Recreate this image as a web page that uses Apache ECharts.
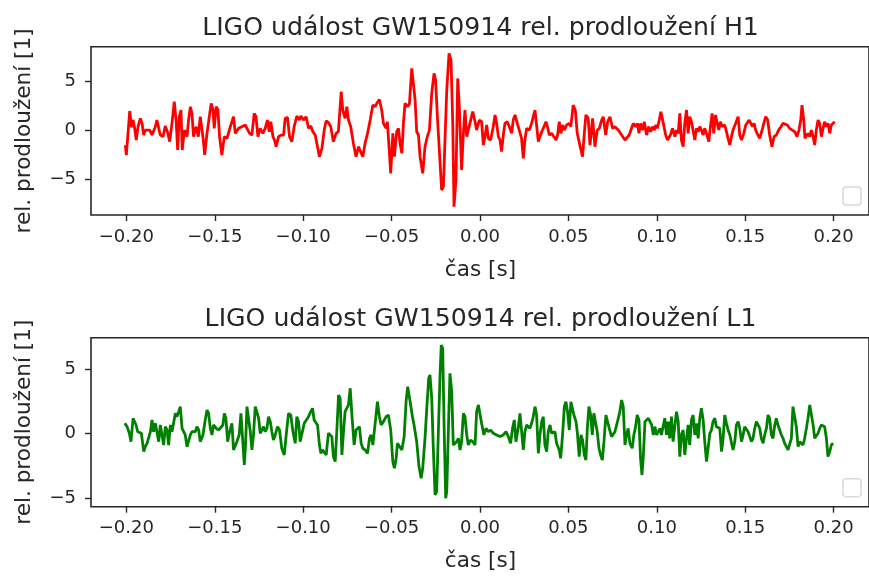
<!DOCTYPE html>
<html>
<head>
<meta charset="utf-8">
<script src="https://cdn.jsdelivr.net/npm/echarts@6/dist/echarts.min.js"></script>
<style>
  html, body { margin: 0; padding: 0; background: #fff; }
  #chart { width: 869px; height: 576px; }
</style>
</head>
<body>
<div id="chart"></div>
<script>
// cas [s] a relativni prodlouzeni
const h1Points = [
  [-0.2006,-1.51],[-0.2000,-2.53],[-0.1981,1.99],[-0.1970,0.31],[-0.1962,1.06],[-0.1953,0.21],[-0.1944,-0.99],[-0.1934,0.38],[-0.1921,1.23],[-0.1911,0.72],
  [-0.1902,-0.48],[-0.1893,0.03],[-0.1883,-0.03],[-0.1868,0.03],[-0.1855,-0.48],[-0.1846,-0.48],[-0.1836,0.38],[-0.1827,1.06],[-0.1817,0.21],[-0.1808,-0.48],
  [-0.1793,-0.65],[-0.1780,0.45],[-0.1766,-0.24],[-0.1755,-1.16],[-0.1742,0.72],[-0.1729,2.95],[-0.1718,0.89],[-0.1710,-2.02],[-0.1701,1.40],[-0.1691,2.09],
  [-0.1684,-2.02],[-0.1672,0.03],[-0.1657,-0.65],[-0.1648,1.06],[-0.1638,2.43],[-0.1629,1.75],[-0.1620,-0.65],[-0.1605,0.38],[-0.1593,-0.65],[-0.1582,1.40],
  [-0.1574,1.47],[-0.1567,-0.65],[-0.1557,-2.53],[-0.1544,-0.31],[-0.1531,1.40],[-0.1520,2.77],[-0.1510,2.09],[-0.1503,0.21],[-0.1492,2.43],[-0.1482,2.09],
  [-0.1473,-0.65],[-0.1460,-2.53],[-0.1446,-0.65],[-0.1431,-0.82],[-0.1412,0.38],[-0.1394,1.40],[-0.1384,-0.31],[-0.1365,0.21],[-0.1347,0.38],[-0.1328,0.55],
  [-0.1318,0.55],[-0.1303,-0.31],[-0.1290,-0.48],[-0.1277,1.75],[-0.1267,1.40],[-0.1256,-0.65],[-0.1243,0.21],[-0.1228,-0.31],[-0.1215,0.21],[-0.1202,1.06],
  [-0.1192,-0.14],[-0.1183,0.89],[-0.1171,-0.65],[-0.1162,-0.99],[-0.1153,-1.68],[-0.1139,-0.65],[-0.1126,-0.48],[-0.1111,-0.48],
  [-0.1102,1.23],[-0.1089,1.34],[-0.1077,-0.65],[-0.1064,-1.16],[-0.1051,0.38],[-0.1036,1.47],[-0.1021,1.06],[-0.1013,1.47],[-0.0998,1.06],[-0.0983,1.40],
  [-0.0970,0.21],[-0.0957,0.45],[-0.0945,-0.14],[-0.0932,-0.48],[-0.0919,-1.68],[-0.0908,-2.71],[-0.0894,-1.85],[-0.0881,0.03],[-0.0870,0.99],[-0.0857,0.79],
  [-0.0844,0.38],[-0.0829,-1.16],[-0.0814,-0.31],[-0.0801,-0.14],[-0.0785,3.97],[-0.0776,2.09],[-0.0763,1.23],[-0.0753,2.43],[-0.0744,1.06],[-0.0731,0.38],
  [-0.0716,-1.34],[-0.0701,-2.71],[-0.0687,-1.68],[-0.0678,-1.85],[-0.0663,-2.71],[-0.0650,-1.34],[-0.0636,-0.31],[-0.0621,1.06],[-0.0606,2.60],[-0.0593,2.43],
  [-0.0584,2.77],[-0.0569,3.18],[-0.0556,2.09],[-0.0546,0.72],[-0.0531,0.21],[-0.0524,0.89],[-0.0512,-2.36],[-0.0505,-4.42],[-0.0493,-0.31],[-0.0484,-2.71],
  [-0.0471,-0.14],[-0.0461,0.21],[-0.0452,-1.34],[-0.0442,-2.36],[-0.0433,0.72],[-0.0424,2.77],[-0.0410,2.43],[-0.0399,2.77],[-0.0386,6.37],[-0.0377,6.20],
  [-0.0367,3.12],[-0.0358,-0.14],[-0.0348,-0.48],[-0.0339,-2.71],[-0.0324,-4.42],[-0.0311,-1.68],[-0.0298,-0.65],[-0.0286,0.03],[-0.0273,3.80],[-0.0260,5.86],
  [-0.0251,5.17],[-0.0241,1.40],[-0.0230,-2.02],[-0.0217,-6.13],[-0.0207,-5.79],[-0.0198,-0.99],[-0.0188,4.14],[-0.0175,7.91],[-0.0164,7.23],[-0.0154,0.72],
  [-0.0147,-7.84],[-0.0136,-5.10],[-0.0126,5.34],[-0.0117,2.43],[-0.0104,-4.08],[-0.0094,-0.31],[-0.0085,2.09],[-0.0075,-0.65],[-0.0066,-0.65],[-0.0057,0.72],
  [-0.0041,1.92],[-0.0028,0.89],[-0.0019,0.03],[-0.0004,1.06],
  [0.0009,0.89],[0.0019,-1.51],[0.0028,-0.65],[0.0038,0.55],[0.0047,-0.82],[0.0060,-0.99],[0.0075,0.38],[0.0085,1.58],[0.0094,0.72],[0.0104,-0.65],
  [0.0113,-0.99],[0.0122,-2.19],[0.0132,-0.48],[0.0141,0.72],[0.0154,0.89],[0.0166,0.38],[0.0179,-0.31],[0.0188,1.06],[0.0198,1.58],[0.0211,0.72],
  [0.0222,0.03],[0.0235,-0.82],[0.0245,-2.88],[0.0254,-0.99],[0.0264,0.21],[0.0279,0.03],[0.0292,0.72],[0.0301,1.40],[0.0311,2.09],[0.0320,0.55],
  [0.0330,-1.16],[0.0339,-0.65],[0.0349,-0.14],[0.0362,0.38],[0.0373,0.89],[0.0381,0.38],[0.0392,-0.48],[0.0405,-0.31],[0.0418,-0.65],[0.0430,-0.99],
  [0.0439,-0.48],[0.0448,0.89],[0.0458,-0.31],[0.0467,0.55],[0.0477,0.03],[0.0490,0.55],[0.0505,0.72],[0.0514,0.38],[0.0527,2.60],[0.0539,2.09],
  [0.0550,-0.31],[0.0561,-0.14],[0.0571,-2.02],[0.0580,-2.71],[0.0590,-0.31],[0.0599,1.58],[0.0612,1.23],[0.0622,-1.51],[0.0637,1.23],[0.0650,-1.68],
  [0.0663,0.03],[0.0675,0.21],[0.0688,1.06],[0.0697,1.40],[0.0711,-0.48],[0.0722,0.89],[0.0735,1.40],[0.0750,0.21],[0.0763,0.38],[0.0782,0.03],
  [0.0801,-0.48],[0.0820,-0.99],[0.0829,-0.99],[0.0844,-0.48],[0.0857,0.21],[0.0867,0.72],[0.0880,0.38],[0.0891,0.72],[0.0899,-0.31],[0.0908,0.72],
  [0.0920,0.03],[0.0929,0.89],[0.0942,-0.48],[0.0954,0.38],[0.0965,-0.14],[0.0976,0.38],[0.0986,0.03],[0.0995,0.55],[0.1003,0.21],[0.1014,1.06],
  [0.1023,1.92],[0.1037,0.72],[0.1050,-0.48],[0.1061,-0.99],
  [0.1077,-0.48],[0.1089,0.21],[0.1102,-0.65],[0.1111,0.03],[0.1121,-0.31],[0.1130,1.75],[0.1139,-0.99],[0.1149,-1.68],[0.1158,0.72],[0.1168,2.09],
  [0.1177,-0.31],[0.1186,1.40],[0.1196,0.89],[0.1205,1.06],[0.1215,-0.99],[0.1224,0.21],[0.1234,-0.14],[0.1243,0.38],[0.1252,0.03],[0.1262,-0.48],
  [0.1271,0.21],[0.1281,-0.31],[0.1294,-1.16],[0.1303,0.38],[0.1313,1.75],[0.1322,-0.31],[0.1332,1.58],[0.1341,1.58],[0.1350,0.03],[0.1360,0.89],
  [0.1369,0.38],[0.1384,0.55],[0.1394,-0.14],[0.1403,-0.82],[0.1413,-1.51],[0.1422,-0.65],[0.1431,0.03],[0.1446,0.72],[0.1460,1.40],[0.1469,-0.48],
  [0.1479,-0.99],[0.1492,-0.31],[0.1503,0.55],[0.1512,0.72],[0.1522,1.06],[0.1531,1.23],[0.1541,0.38],[0.1550,0.72],[0.1559,0.03],[0.1567,-0.31],
  [0.1582,-0.82],[0.1593,-0.14],[0.1605,0.72],[0.1616,1.40],[0.1627,1.06],[0.1638,-0.48],[0.1651,-1.68],[0.1663,-0.65],[0.1676,-0.48],[0.1689,0.03],
  [0.1702,0.38],[0.1714,0.72],[0.1725,0.89],[0.1738,0.55],[0.1751,0.21],[0.1766,0.03],[0.1780,-0.14],[0.1793,-0.65],[0.1804,0.03],[0.1814,1.06],
  [0.1821,2.60],[0.1831,1.06],[0.1838,-0.82],[0.1846,-0.65],[0.1855,-0.31],[0.1865,-0.65],[0.1874,0.03],[0.1884,-0.65],[0.1893,-1.51],[0.1902,0.03],
  [0.1912,1.06],[0.1921,0.72],[0.1931,-0.65],[0.1940,0.21],[0.1949,0.89],[0.1959,0.38],[0.1968,0.72],[0.1978,-0.31],[0.1987,0.55],[0.1997,0.72],
  [0.2006,0.89]
];

const l1Points = [
  [-0.2009,0.80],[-0.1996,0.54],[-0.1983,0.03],[-0.1974,-0.62],[-0.1962,1.19],[-0.1955,1.31],[-0.1945,0.67],[-0.1936,0.15],[-0.1925,0.28],[-0.1915,0.03],
  [-0.1902,-1.39],[-0.1893,-1.01],[-0.1883,-0.75],[-0.1874,-0.75],[-0.1864,0.15],[-0.1855,1.06],[-0.1846,0.15],[-0.1836,0.80],[-0.1827,0.67],[-0.1817,-0.62],
  [-0.1808,0.67],[-0.1798,0.80],[-0.1789,-0.88],[-0.1780,0.54],[-0.1770,0.28],[-0.1761,-0.88],[-0.1751,0.67],[-0.1742,0.15],[-0.1733,0.80],[-0.1723,1.57],
  [-0.1714,1.31],[-0.1704,1.70],[-0.1695,2.09],[-0.1685,0.41],[-0.1676,0.28],[-0.1667,-0.10],[-0.1657,-1.01],[-0.1648,-0.88],[-0.1638,-0.10],[-0.1629,0.15],
  [-0.1620,0.28],[-0.1610,0.15],[-0.1601,0.54],[-0.1591,0.28],[-0.1582,-0.62],[-0.1567,-0.10],[-0.1554,1.06],[-0.1544,1.83],[-0.1535,1.57],[-0.1525,0.41],
  [-0.1516,-0.10],[-0.1507,0.67],[-0.1492,0.41],[-0.1478,0.28],[-0.1469,0.15],[-0.1454,0.67],[-0.1446,1.57],[-0.1437,1.19],[-0.1427,-0.62],[-0.1416,0.15],
  [-0.1403,0.80],[-0.1394,-1.26],[-0.1384,-1.13],[-0.1375,-0.62],[-0.1362,-0.10],[-0.1352,1.57],[-0.1341,1.70],[-0.1333,-2.42],[-0.1326,-0.88],[-0.1318,2.09],
  [-0.1309,1.96],[-0.1299,0.15],[-0.1290,-1.26],[-0.1281,-0.10],[-0.1271,2.09],[-0.1262,2.22],[-0.1252,1.19],[-0.1243,0.03],[-0.1234,-0.10],[-0.1224,0.54],
  [-0.1215,0.15],[-0.1205,0.41],[-0.1196,1.31],[-0.1186,0.93],[-0.1177,0.15],[-0.1168,-0.49],[-0.1158,-0.10],[-0.1145,0.54],[-0.1134,0.28],[-0.1121,-1.13],
  [-0.1107,-1.65],
  [-0.1096,-0.10],[-0.1083,1.57],[-0.1070,1.44],[-0.1058,0.15],[-0.1045,-0.75],[-0.1036,1.31],[-0.1026,0.93],[-0.1017,-0.62],[-0.1007,-0.62],[-0.0994,0.80],
  [-0.0983,0.93],[-0.0970,1.31],[-0.0957,1.70],[-0.0947,1.96],[-0.0938,1.06],[-0.0928,1.19],[-0.0919,0.67],[-0.0908,-0.88],[-0.0900,-1.52],[-0.0891,-1.26],
  [-0.0881,-1.39],[-0.0870,-1.65],[-0.0857,0.03],[-0.0847,0.15],[-0.0838,-0.23],[-0.0829,-1.78],[-0.0819,-2.16],[-0.0810,0.15],[-0.0800,2.99],[-0.0791,2.73],
  [-0.0781,-1.65],[-0.0772,0.15],[-0.0763,1.70],[-0.0753,1.83],[-0.0744,2.22],[-0.0734,3.51],[-0.0725,1.57],[-0.0712,-0.88],[-0.0701,0.28],[-0.0691,0.41],
  [-0.0682,0.54],[-0.0672,-0.75],[-0.0663,-1.13],[-0.0650,-1.26],[-0.0636,-1.52],[-0.0625,-0.36],[-0.0616,-0.10],[-0.0606,-0.88],[-0.0593,0.80],[-0.0580,2.47],
  [-0.0569,1.31],[-0.0559,0.67],[-0.0546,0.93],[-0.0531,1.31],[-0.0518,1.44],[-0.0505,0.28],[-0.0493,-2.16],[-0.0484,-2.68],[-0.0474,-1.91],[-0.0467,-0.75],
  [-0.0456,-0.62],[-0.0442,-1.26],[-0.0429,-0.23],[-0.0418,2.47],[-0.0409,3.63],[-0.0395,2.47],[-0.0382,1.31],[-0.0373,0.67],[-0.0358,-0.62],[-0.0345,-2.55],
  [-0.0333,-3.45],[-0.0324,-2.68],[-0.0311,-0.36],[-0.0301,1.96],[-0.0290,4.28],[-0.0283,4.54],[-0.0273,2.73],[-0.0264,-1.13],[-0.0254,-4.74],[-0.0245,-4.48],
  [-0.0236,-0.10],[-0.0226,4.54],[-0.0219,6.86],[-0.0211,6.60],[-0.0202,-0.10],[-0.0194,-5.00],[-0.0188,-4.48],[-0.0177,1.19],[-0.0170,4.66],[-0.0160,3.25],
  [-0.0151,-0.88],[-0.0141,-1.01],[-0.0132,-0.62],[-0.0122,-0.36],[-0.0113,-1.26],[-0.0104,-0.62],[-0.0094,1.57],[-0.0085,1.31],[-0.0075,-0.10],[-0.0066,-0.88],
  [-0.0053,-0.49],[-0.0041,-0.62],[-0.0028,-0.88],[-0.0019,1.70],[-0.0009,2.22],[0.0000,2.09],
  [0.0009,0.80],[0.0022,-0.10],[0.0034,0.41],[0.0047,0.15],[0.0060,0.28],[0.0075,0.03],[0.0094,-0.10],[0.0113,-0.23],[0.0132,-0.10],[0.0147,0.15],
  [0.0160,-0.23],[0.0173,-0.75],[0.0184,0.41],[0.0194,1.06],[0.0203,-0.62],[0.0216,0.41],[0.0226,1.57],[0.0235,1.70],[0.0245,-1.26],[0.0254,0.15],
  [0.0264,0.67],[0.0273,0.80],[0.0282,0.41],[0.0292,0.80],[0.0301,1.31],[0.0311,2.09],[0.0320,1.44],[0.0330,-1.52],[0.0339,-0.10],[0.0349,0.93],
  [0.0358,1.31],[0.0367,-0.88],[0.0377,-1.39],[0.0386,0.15],[0.0396,0.67],[0.0405,0.03],[0.0414,-0.10],[0.0424,0.15],[0.0433,-0.75],[0.0448,-1.26],
  [0.0456,-1.91],[0.0467,-0.10],[0.0477,2.09],[0.0486,2.47],[0.0495,1.70],[0.0505,0.28],[0.0514,2.47],[0.0524,2.60],[0.0531,1.44],[0.0543,0.93],
  [0.0550,0.15],[0.0561,-1.78],[0.0571,-0.10],[0.0580,-0.49],[0.0590,-1.65],[0.0599,-2.04],[0.0607,0.41],[0.0616,2.09],[0.0626,1.44],[0.0635,-0.10],
  [0.0644,1.57],[0.0654,1.70],[0.0663,0.15],[0.0673,-1.13],[0.0682,-1.65],[0.0692,-2.04],[0.0701,-0.62],[0.0712,1.44],[0.0722,1.57],[0.0731,0.41],
  [0.0744,-0.23],[0.0754,-0.10],[0.0763,0.15],[0.0773,0.67],[0.0782,0.80],[0.0791,1.70],[0.0801,2.60],[0.0810,2.09],[0.0820,-0.88],[0.0829,-0.10],
  [0.0838,0.41],[0.0848,-0.75],[0.0861,-1.13],[0.0870,-0.10],[0.0880,0.54],[0.0889,1.44],[0.0899,1.06],[0.0908,-1.91],[0.0916,-3.20],[0.0923,-1.91],
  [0.0933,0.93],[0.0942,0.93],[0.0952,1.19],[0.0961,1.31],[0.0971,0.67],[0.0980,-0.10],[0.0989,0.54],[0.0999,-0.10],[0.1008,0.03],[0.1018,0.41],
  [0.1026,-0.10],[0.1036,-0.23],[0.1045,1.19],[0.1055,-0.10],[0.1064,0.93],[0.1073,-0.36],[0.1083,1.31],[0.1092,-0.62],[0.1102,-0.75],[0.1111,1.70],
  [0.1121,0.93],[0.1130,-1.78],[0.1139,-0.10],[0.1149,0.28],[0.1158,-1.65],[0.1168,-0.36],[0.1177,0.67],[0.1186,-0.88],[0.1196,1.06],[0.1205,1.44],
  [0.1215,-0.10],[0.1224,0.80],[0.1234,-0.36],[0.1243,1.19],[0.1252,1.96],[0.1262,1.06],[0.1271,-0.62],[0.1281,-2.16],[0.1290,-1.13],[0.1300,0.03],
  [0.1309,0.28],[0.1318,0.93],[0.1328,1.19],[0.1337,0.54],[0.1347,0.67],[0.1356,0.41],[0.1366,-1.39],[0.1375,-0.36],[0.1384,1.44],[0.1394,0.80],
  [0.1403,0.28],[0.1413,-0.10],[0.1422,-0.23],[0.1431,-1.26],[0.1441,-0.62],[0.1450,0.67],[0.1460,0.93],[0.1469,0.41],[0.1479,-0.62],[0.1488,-0.10],
  [0.1497,0.54],[0.1507,0.67],[0.1516,0.15],[0.1526,-0.23],[0.1535,-0.62],[0.1544,-0.36],[0.1554,0.41],[0.1563,0.93],[0.1573,0.67],[0.1582,0.41],
  [0.1591,-0.36],[0.1601,-0.75],[0.1610,-0.10],[0.1620,0.41],[0.1629,1.44],[0.1638,1.19],[0.1648,-0.10],[0.1657,-0.36],[0.1667,0.67],[0.1676,1.19],
  [0.1685,0.67],[0.1695,0.28],[0.1704,-0.10],[0.1714,-0.36],[0.1723,-0.75],[0.1733,-1.01],[0.1742,-1.26],[0.1751,-1.13],[0.1761,-0.36],[0.1770,2.09],
  [0.1780,1.96],[0.1789,0.54],[0.1799,-1.01],[0.1808,-0.62],[0.1817,-0.75],[0.1827,-0.88],[0.1836,-0.36],[0.1846,0.41],[0.1855,1.19],[0.1865,2.22],
  [0.1874,2.09],[0.1884,0.67],[0.1893,-0.36],[0.1902,-0.23],[0.1912,0.03],[0.1921,0.41],[0.1931,0.67],[0.1940,0.80],[0.1949,0.54],[0.1959,-0.36],
  [0.1968,-1.78],[0.1978,-1.39],[0.1987,-0.88],[0.1997,-0.75]
];

const xTicks = [-0.20, -0.15, -0.10, -0.05, 0.00, 0.05, 0.10, 0.15, 0.20];
const yTicks = [-5, 0, 5];
const titles = ['LIGO událost GW150914 rel. prodloužení H1', 'LIGO událost GW150914 rel. prodloužení L1'];
const xName = 'čas [s]';
const yName = 'rel. prodloužení [1]';

const FONT = 'DejaVu Sans';
const INK = '#262626';

// matplotlib pise minus jako U+2212
function fmtX(v) {
  const s = Math.abs(v).toFixed(2);
  return (v < -1e-9 ? '\u2212' : '') + s;
}
function fmtY(v) {
  return (v < 0 ? '\u2212' : '') + Math.abs(v);
}

const gridTops = [46.7, 337.7];
const gridH = [168.3, 169];
const yRanges = [[-8.7, 8.6], [-5.65, 7.42]];

const chart = echarts.init(document.getElementById('chart'));

let option = {
  animation: false,
  backgroundColor: '#fff',
  grid: [0, 1].map(i => ({
    left: 91, top: gridTops[i], width: 779, height: gridH[i],
    show: true, borderColor: INK, borderWidth: 1.6, backgroundColor: 'transparent'
  })),
  xAxis: [0, 1].map(i => ({
    type: 'value', gridIndex: i, min: -0.22, max: 0.22, position: 'bottom',
    axisLine: { show: false, onZero: false },
    splitLine: { show: false },
    axisTick: { show: true, customValues: xTicks, length: 6, lineStyle: { color: INK, width: 1.4 } },
    axisLabel: { customValues: xTicks, formatter: fmtX, margin: 13, fontSize: 18, fontFamily: FONT, color: INK }
  })),
  yAxis: [0, 1].map(i => ({
    type: 'value', gridIndex: i, min: yRanges[i][0], max: yRanges[i][1], position: 'left',
    axisLine: { show: false, onZero: false },
    splitLine: { show: false },
    axisTick: { show: true, customValues: yTicks, length: 6, lineStyle: { color: INK, width: 1.4 } },
    axisLabel: { customValues: yTicks, formatter: fmtY, margin: 15, fontSize: 18, fontFamily: FONT, color: INK }
  })),
  series: [
    {
      type: 'line', xAxisIndex: 0, yAxisIndex: 0, data: h1Points,
      symbol: 'none', showSymbol: false, clip: true,
      lineStyle: { color: '#ff0000', width: 2.8 }
    },
    {
      type: 'line', xAxisIndex: 1, yAxisIndex: 1, data: l1Points,
      symbol: 'none', showSymbol: false, clip: true,
      lineStyle: { color: '#008000', width: 2.8 }
    }
  ],
  graphic: []
};

[0, 1].forEach(i => {
  const top = gridTops[i];
  const bottom = top + gridH[i];
  // nadpis
  option.graphic.push({
    type: 'text', x: 480.5, y: top - 18.5,
    style: { text: titles[i], fill: INK, font: '25.2px "DejaVu Sans"', textAlign: 'center', textVerticalAlign: 'middle' }
  });
  // popisek osy x
  option.graphic.push({
    type: 'text', x: 480.5, y: bottom + 55,
    style: { text: xName, fill: INK, font: '21.6px "DejaVu Sans"', textAlign: 'center', textVerticalAlign: 'middle' }
  });
  // popisek osy y
  option.graphic.push({
    type: 'text', x: 24, y: top + gridH[i] / 2, rotation: Math.PI / 2,
    style: { text: yName, fill: INK, font: '21.6px "DejaVu Sans"', textAlign: 'center', textVerticalAlign: 'middle' }
  });
  // prazdna legenda
  option.graphic.push({
    type: 'rect', shape: { x: 843, y: bottom - 28, width: 18, height: 18, r: 3 },
    style: { fill: 'rgba(255,255,255,0.8)', stroke: '#d9d9d9', lineWidth: 1.5 }
  });
});

chart.setOption(option);
</script>
</body>
</html>
